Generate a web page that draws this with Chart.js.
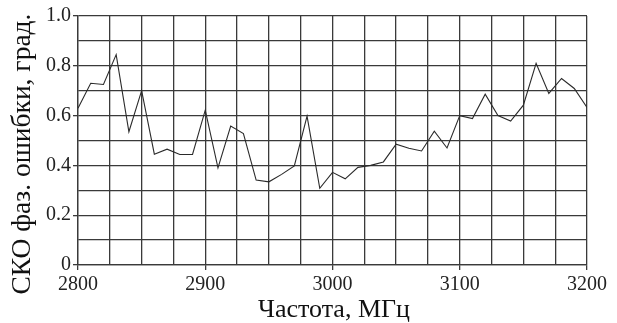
<!DOCTYPE html>
<html>
<head>
<meta charset="utf-8">
<script src="https://cdn.jsdelivr.net/npm/chart.js@4/dist/chart.umd.min.js"></script>
<style>
  html, body { margin: 0; padding: 0; background: #fff; }
  #wrap { width: 617px; height: 323px; }
</style>
</head>
<body>
<div id="wrap"><canvas id="myChart"></canvas></div>
<script>
// Частота, МГц (шаг 10)
const freqs = [2800, 2810, 2820, 2830, 2840, 2850, 2860, 2870, 2880, 2890,
  2900, 2910, 2920, 2930, 2940, 2950, 2960, 2970, 2980, 2990,
  3000, 3010, 3020, 3030, 3040, 3050, 3060, 3070, 3080, 3090,
  3100, 3110, 3120, 3130, 3140, 3150, 3160, 3170, 3180, 3190, 3200];
// СКО фазовой ошибки, град.
const sko = [0.63, 0.73, 0.725, 0.845, 0.535, 0.70, 0.445, 0.465, 0.444, 0.444,
  0.622, 0.39, 0.558, 0.528, 0.341, 0.334, 0.364, 0.398, 0.598, 0.308,
  0.372, 0.346, 0.392, 0.40, 0.414, 0.485, 0.469, 0.458, 0.537, 0.47,
  0.60, 0.588, 0.686, 0.60, 0.578, 0.642, 0.81, 0.689, 0.749, 0.709, 0.633];

const xTitle = "Частота, МГц";
const yTitle = "СКО фаз. ошибки, град.";
const FONT = "'Liberation Serif', 'Times New Roman', serif";
const GRID = "#3a3a3a";

// подписи осей рисуем сами, чтобы поставить их точно
const axisTitles = {
  id: "axisTitles",
  afterDraw(chart) {
    const c = chart.ctx;
    c.save();
    c.fillStyle = "#111";
    c.textAlign = "center";
    c.textBaseline = "middle";
    c.font = "26px " + FONT;
    c.fillText(xTitle, 334, 310);
    c.font = "27.5px " + FONT;
    c.translate(23, 154);
    c.rotate(-Math.PI / 2);
    c.fillText(yTitle, 0, 0);
    c.restore();
  }
};

const isMajorX = (v) => Math.round(v) % 100 === 0;
const isMajorY = (v) => Math.round(v * 10) % 2 === 0;

new Chart(document.getElementById("myChart"), {
  type: "line",
  data: {
    datasets: [{
      data: freqs.map((f, i) => ({ x: f, y: sko[i] })),
      borderColor: "#2a2a2a",
      borderWidth: 1.1,
      pointRadius: 0,
      tension: 0,
      fill: false
    }]
  },
  options: {
    responsive: true,
    maintainAspectRatio: false,
    animation: false,
    layout: { padding: { left: 0, top: 16, right: 30, bottom: 0 } },
    plugins: { legend: { display: false }, tooltip: { enabled: false } },
    scales: {
      x: {
        type: "linear",
        min: 2800,
        max: 3200,
        afterFit: (s) => { s.height = 58; },
        border: { color: GRID, width: 1.3 },
        grid: {
          color: GRID,
          lineWidth: 1.3,
          tickLength: 5,
          tickColor: (c) => isMajorX(c.tick.value) ? GRID : "rgba(0,0,0,0)"
        },
        ticks: {
          stepSize: 25,
          autoSkip: false,
          maxRotation: 0,
          padding: 3,
          color: "#222",
          font: { family: FONT, size: 20 },
          callback: (v) => isMajorX(v) ? String(v) : ""
        }
      },
      y: {
        min: 0,
        max: 1,
        afterFit: (s) => { s.width = 78; },
        border: { color: GRID, width: 1.3 },
        grid: {
          color: GRID,
          lineWidth: 1.3,
          tickLength: 5,
          tickColor: (c) => isMajorY(c.tick.value) ? GRID : "rgba(0,0,0,0)"
        },
        ticks: {
          stepSize: 0.1,
          autoSkip: false,
          padding: 2,
          color: "#222",
          font: { family: FONT, size: 20 },
          callback: (v) => {
            if (!isMajorY(v)) return "";
            return Math.abs(v) < 1e-9 ? "0" : v.toFixed(1);
          }
        }
      }
    }
  },
  plugins: [axisTitles]
});
</script>
</body>
</html>
